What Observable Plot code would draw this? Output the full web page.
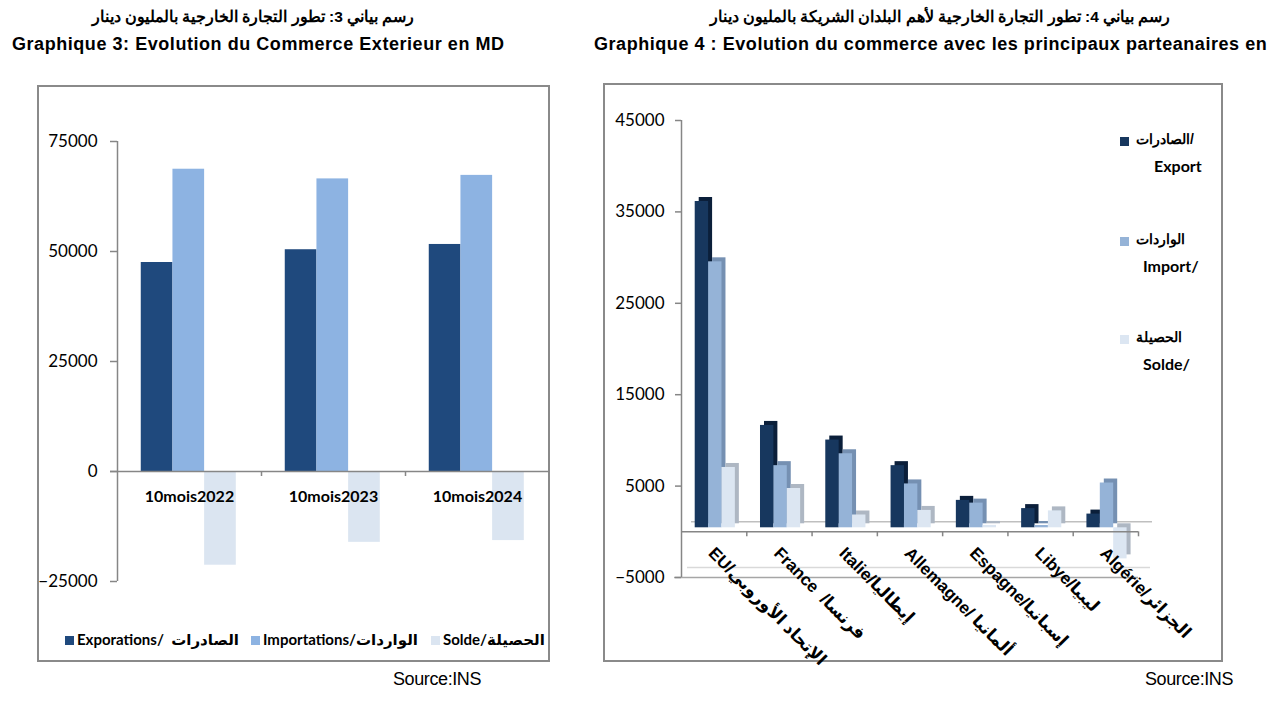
<!DOCTYPE html>
<html><head><meta charset="utf-8">
<script src="https://cdn.jsdelivr.net/npm/d3@7"></script>
<script src="https://cdn.jsdelivr.net/npm/@observablehq/plot@0.6"></script>
<style>
html,body{margin:0;padding:0;background:#fff;}
body{width:1276px;height:702px;position:relative;overflow:hidden;font-family:"Liberation Sans",Arial,sans-serif;color:#000;}
.abs{position:absolute;white-space:nowrap;}
.ar-title{position:absolute;text-align:center;font-weight:bold;font-size:15.5px;white-space:nowrap;}
.fr-title{font-weight:bold;font-size:18px;letter-spacing:0.55px;}
.frame{position:absolute;border:2px solid #8a8a8a;box-sizing:border-box;}
.plot{position:absolute;}
.leg{font-family:Lato,"DejaVu Sans",sans-serif;font-weight:bold;font-size:15px;}
.sq{position:absolute;width:9px;height:9px;}
.src{font-family:"Liberation Sans",Arial,sans-serif;font-size:18px;letter-spacing:-0.4px;}
</style>
</head><body>
<div id="t3ar" class="ar-title" dir="rtl" style="left:0;top:8px;width:506px;"></div>
<div class="abs fr-title" style="left:12px;top:34px;">Graphique 3: Evolution du Commerce Exterieur en MD</div>
<div id="t4ar" class="ar-title" dir="rtl" style="left:700px;top:8px;width:480px;"></div>
<div class="abs fr-title" style="left:594px;top:34px;">Graphique 4 : Evolution du commerce avec les principaux parteanaires en</div>

<div class="frame" style="left:37px;top:85px;width:513px;height:577px;"></div>
<div class="frame" style="left:603px;top:83px;width:620px;height:579px;"></div>
<div id="c3" class="plot" style="left:37px;top:85px;"></div>
<div id="c4" class="plot" style="left:603px;top:83px;"></div>

<div id="leg3"></div>
<div id="leg4"></div>
<div class="abs src" style="left:393px;top:669px;">Source:INS</div>
<div class="abs src" style="left:1145px;top:669px;">Source:INS</div>

<script>
// ---- Titles ----
const title3Ar = "رسم بياني 3: تطور التجارة الخارجية بالمليون دينار";
const title4Ar = "رسم بياني 4: تطور التجارة الخارجية لأهم البلدان الشريكة بالمليون دينار";

// ---- Graphique 3 data ----
const periods = ["10mois2022", "10mois2023", "10mois2024"];
const exportations = [47500, 50400, 51600];
const importations = [68700, 66500, 67300];
const soldes = [-21300, -16100, -15700];
const yTicks3 = [-25000, 0, 25000, 50000, 75000];
const series3 = ["Exportations", "Importations", "Solde"];
const legend3 = ["Exporations/\u00a0 الصادرات", "Importations/الواردات", "Solde/الحصيلة"];
const colors3 = ["#1f497d", "#8db3e2", "#dbe5f1"];

// ---- Graphique 4 data ----
const partners = ["EU/الإتحاد الأوروبي", "France  /فرنسا", "Italie/إيطاليا", "Allemagne/ ألمانيا", "Espagne/إسبانيا", "Libye/ليبيا", "Algérie/الجزائر"];
const partnerExport = [35700, 11200, 9600, 6800, 3000, 2100, 1500];
const partnerImport = [29100, 6800, 8100, 4800, 2700, 250, 4900];
const partnerSolde = [6600, 4300, 1400, 1900, 260, 1850, -3400];
const yTicks4 = [-5000, 5000, 15000, 25000, 35000, 45000];
const series4 = ["Export", "Import", "Solde"];
const legend4Ar = ["الصادرات/", "الواردات", "الحصيلة"];
const legend4Fr = ["Export", "Import/", "Solde/"];
const colors4 = ["#17375e", "#95b3d7", "#dce6f2"];
const sideColors4 = ["#0b1f3a", "#7590b2", "#aeb7c3"];

const gray = "#868686";

document.getElementById("t3ar").textContent = title3Ar;
document.getElementById("t4ar").textContent = title4Ar;

// ---- Chart 3 ----
const t3 = periods.flatMap((p, i) => [exportations[i], importations[i], soldes[i]]
  .map((v, j) => ({i, j, period: p, series: series3[j], value: v})));
const off3 = 0.165, w3 = 0.22;
const p3 = Plot.plot({
  width: 512, height: 530,
  marginLeft: 80, marginRight: 0, marginTop: 56, marginBottom: 34,
  style: {fontFamily: "Lato, sans-serif", fontSize: "17px", color: "#000", background: "transparent", overflow: "visible"},
  x: {domain: [0, periods.length], axis: null},
  y: {domain: [-25000, 75000], axis: null},
  color: {domain: series3, range: colors3},
  marks: [
    Plot.rect(t3, {x1: d => d.i + off3 + d.j * w3, x2: d => d.i + off3 + (d.j + 1) * w3, y1: 0, y2: "value", fill: "series"}),
    Plot.axisY({ticks: yTicks3, tickSize: 7, tickPadding: 13, tickFormat: d3.format("d"), stroke: gray, strokeWidth: 1.5, fill: "#000", label: null, fontSize: 17}),
    Plot.ruleX([0], {y1: -25000, y2: 75000, stroke: gray, strokeWidth: 1.5}),
    Plot.ruleY([0], {stroke: gray, strokeWidth: 1.5, insetLeft: -7}),
    Plot.ruleX(d3.range(1, periods.length), {y1: 0, y2: 0, insetBottom: -5, stroke: gray, strokeWidth: 1.5}),
    Plot.text(periods, {x: (d, i) => i + 0.5, y: 0, dy: 25, text: d => d, fontWeight: "bold", fontSize: 16})
  ]
});
document.getElementById("c3").appendChild(p3);

// legend 3
const leg3 = document.getElementById("leg3");
const leg3x = [65, 251, 431];
legend3.forEach((t, j) => {
  const s = document.createElement("div");
  s.className = "sq"; s.style.left = leg3x[j] + "px"; s.style.top = "636px"; s.style.background = colors3[j];
  leg3.appendChild(s);
  const l = document.createElement("div");
  l.className = "abs leg"; l.style.left = (leg3x[j] + 12) + "px"; l.style.top = "630px"; l.textContent = t;
  leg3.appendChild(l);
});

// ---- Chart 4 ----
const t4 = partners.flatMap((p, i) => [partnerExport[i], partnerImport[i], partnerSolde[i]]
  .map((v, j) => ({i, j, partner: p, series: series4[j], value: v})));
const off4 = 0.21, w4 = 0.205;
const bx1 = d => d.i + off4 + d.j * w4, bx2 = d => d.i + off4 + (d.j + 1) * w4;
const p4 = Plot.plot({
  width: 620, height: 579,
  marginLeft: 78, marginRight: 85, marginTop: 37, marginBottom: 85,
  style: {fontFamily: "Lato, sans-serif", fontSize: "17px", color: "#000", background: "transparent", overflow: "visible"},
  x: {domain: [0, partners.length], axis: null},
  y: {domain: [-5000, 45000], axis: null},
  color: {domain: series4, range: colors4},
  marks: [
    Plot.ruleY([-5000], {stroke: "#a6a6a6", strokeWidth: 1.5, insetLeft: -7}),
    Plot.ruleY([-5000], {stroke: "#d9d9d9", strokeWidth: 1.5, dy: -10, insetLeft: 6, insetRight: -12}),
    Plot.ruleY([0], {stroke: "#bfbfbf", strokeWidth: 1.5, dy: -10, insetLeft: 10, insetRight: -14}),
    ...series4.map((s, j) => Plot.rect(t4.filter(d => d.j === j), {x1: bx1, x2: bx2, y1: 0, y2: "value", fill: sideColors4[j], dx: 4, dy: -8})),
    Plot.rect(t4, {x1: bx1, x2: bx2, y1: 0, y2: "value", fill: "series", dy: -4}),
    Plot.ruleY([0], {stroke: gray, strokeWidth: 1.5}),
    Plot.ruleX(d3.range(1, partners.length + 1), {y1: 0, y2: 0, insetBottom: -5, stroke: gray, strokeWidth: 1.5}),
    Plot.axisY({ticks: yTicks4, tickSize: 6, tickPadding: 11, tickFormat: d3.format("d"), stroke: gray, strokeWidth: 1.5, fill: "#000", label: null, fontSize: 17}),
    Plot.ruleX([0], {y1: -5000, y2: 45000, stroke: gray, strokeWidth: 1.5}),
    Plot.text(partners, {x: (d, i) => i + 0.5, y: 0, dy: 14, dx: 2, text: d => d, rotate: 45, textAnchor: "start", lineAnchor: "top",
      fontWeight: "bold", fontSize: 17, fontFamily: "Liberation Sans, DejaVu Sans, sans-serif"})
  ]
});
document.getElementById("c4").appendChild(p4);

// legend 4
const leg4 = document.getElementById("leg4");
const leg4y = [137, 237, 335];
series4.forEach((s, j) => {
  const sq = document.createElement("div");
  sq.className = "sq"; sq.style.left = "1120px"; sq.style.top = leg4y[j] + "px"; sq.style.background = colors4[j];
  leg4.appendChild(sq);
  const a = document.createElement("div");
  a.className = "abs"; a.style.left = "1136px"; a.style.top = (leg4y[j] - 6) + "px";
  a.style.fontWeight = "bold"; a.style.fontSize = "14px"; a.textContent = legend4Ar[j];
  leg4.appendChild(a);
  const f = document.createElement("div");
  f.className = "abs leg"; f.style.left = (j === 0 ? 1154 : 1143) + "px"; f.style.top = (leg4y[j] + 19) + "px";
  f.style.fontSize = "16px"; f.textContent = legend4Fr[j];
  leg4.appendChild(f);
});
</script>
</body></html>
